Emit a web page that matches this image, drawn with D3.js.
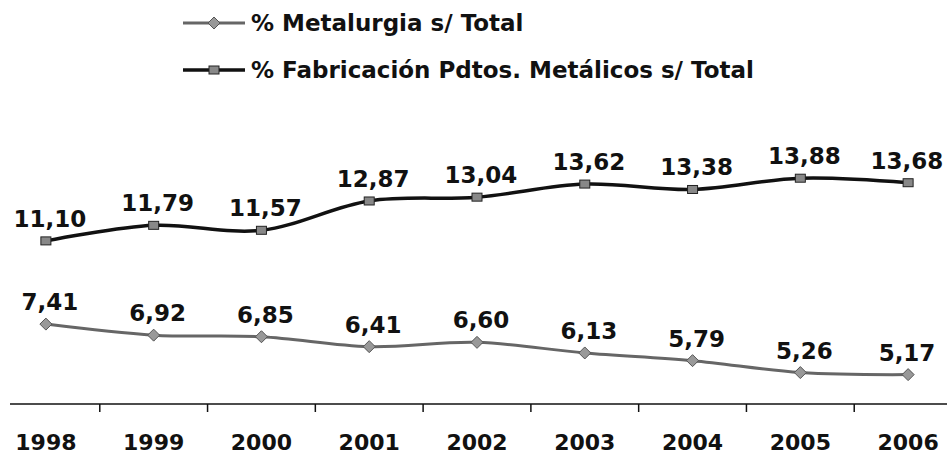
<!DOCTYPE html>
<html>
<head>
<meta charset="utf-8">
<script src="https://cdn.jsdelivr.net/npm/d3@7"></script>
<style>
  body { margin: 0; background: #fff; }
  svg { display: block; }
  text { font-family: "DejaVu Sans", Verdana, sans-serif; font-weight: bold; fill: #111; }
</style>
</head>
<body>
<div id="chart"></div>
<script>
// values
const years = ['1998', '1999', '2000', '2001', '2002', '2003', '2004', '2005', '2006'];
const metalurgia = [7.41, 6.92, 6.85, 6.41, 6.60, 6.13, 5.79, 5.26, 5.17];
const fabricacion = [11.10, 11.79, 11.57, 12.87, 13.04, 13.62, 13.38, 13.88, 13.68];
const seriesNames = ['% Metalurgia s/ Total', '% Fabricación Pdtos. Metálicos s/ Total'];

const width = 947, height = 458;
const axisY = 404;

const svg = d3.select('#chart')
    .append('svg')
    .attr('width', width)
    .attr('height', height);

const x = d3.scaleBand()
    .domain(years)
    .range([-8, 962]);

const y = d3.scaleLinear()
    .domain([4, 14])
    .range([401, 175.5]);

const fmt = v => v.toFixed(2).replace('.', ',');

// x axis: line + ticks between categories
svg.append('line')
    .attr('x1', 10).attr('x2', width)
    .attr('y1', axisY).attr('y2', axisY)
    .attr('stroke', '#111').attr('stroke-width', 1.5);

svg.selectAll('.tick')
    .data(years.slice(1))
    .enter().append('line')
    .attr('x1', d => x(d)).attr('x2', d => x(d))
    .attr('y1', axisY).attr('y2', axisY + 8)
    .attr('stroke', '#111').attr('stroke-width', 1.5);

svg.selectAll('.year')
    .data(years)
    .enter().append('text')
    .attr('x', d => x(d) + x.bandwidth() / 2)
    .attr('y', 450)
    .attr('text-anchor', 'middle')
    .style('font-size', '22px')
    .text(d => d);

const line = d3.line()
    .x((d, i) => x(years[i]) + x.bandwidth() / 2)
    .y(d => y(d))
    .curve(d3.curveCatmullRom);

// series definitions
const series = [
    {name: seriesNames[0], values: metalurgia, stroke: '#666', width: 3, marker: 'diamond'},
    {name: seriesNames[1], values: fabricacion, stroke: '#111', width: 3.5, marker: 'square'}
];

function drawMarker(g, type, cx, cy) {
    if (type === 'diamond') {
        g.append('path')
            .attr('d', `M${cx},${cy - 6}L${cx + 6},${cy}L${cx},${cy + 6}L${cx - 6},${cy}Z`)
            .attr('fill', '#999').attr('stroke', '#555').attr('stroke-width', 1);
    } else {
        g.append('rect')
            .attr('x', cx - 5).attr('y', cy - 4)
            .attr('width', 10).attr('height', 8)
            .attr('fill', '#888').attr('stroke', '#222').attr('stroke-width', 1);
    }
}

series.forEach(s => {
    const g = svg.append('g');
    g.append('path')
        .attr('d', line(s.values))
        .attr('fill', 'none')
        .attr('stroke', s.stroke)
        .attr('stroke-width', s.width);

    s.values.forEach((v, i) => {
        const cx = x(years[i]) + x.bandwidth() / 2;
        drawMarker(g, s.marker, cx, y(v));
    });

    g.selectAll('.label')
        .data(s.values)
        .enter().append('text')
        .attr('x', (d, i) => Math.min(x(years[i]) + x.bandwidth() / 2 + 4, width - 40))
        .attr('y', d => y(d) - 14)
        .attr('text-anchor', 'middle')
        .style('font-size', '23px')
        .text(d => fmt(d));
});

// legend
const legend = svg.append('g');
series.forEach((s, i) => {
    const ly = 23 + i * 47;
    legend.append('line')
        .attr('x1', 183).attr('x2', 245)
        .attr('y1', ly).attr('y2', ly)
        .attr('stroke', s.stroke).attr('stroke-width', s.width);
    drawMarker(legend, s.marker, 214, ly);
    legend.append('text')
        .attr('x', 251)
        .attr('y', ly + 8)
        .style('font-size', '23px')
        .text(s.name);
});
</script>
</body>
</html>
